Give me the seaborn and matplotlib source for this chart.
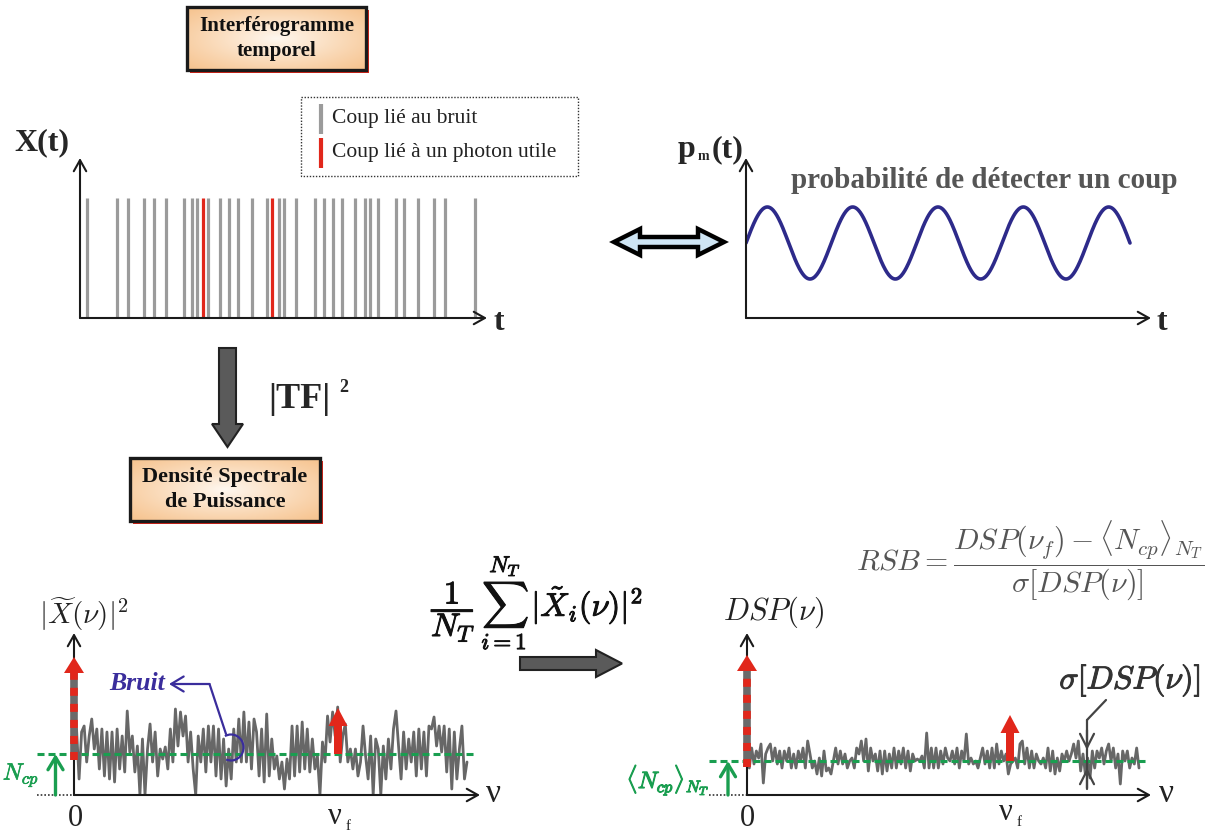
import numpy as np
import matplotlib
matplotlib.use("Agg")
import matplotlib.pyplot as plt
import matplotlib.patheffects as pe
import seaborn as sns
from matplotlib.patches import Rectangle, Polygon, Arc

# ---------------- data ----------------
# photon counting interferogram: positions of the counts along t (px from origin)
noise_count_times = [7, 37, 48, 64, 74, 86, 104, 112, 117, 128, 140, 149, 158, 172,
                     187, 199, 204, 216, 235, 244, 253, 262, 275, 285, 290, 298,
                     316, 324, 338, 354, 365, 395]
photon_count_times = [122.5, 192]
count_height = 120

# detection probability p_m(t)
sine_cycles = 4.5
sine_span = 384
sine_mean = 75
sine_amp = 36

# single-realisation spectrum |X(nu)|^2 (height above axis)
spectrum_single = [56, 66, 16, 63, 69, 33, 59, 76, 46, 66, 26, 66, 19, 63, 16, 63, 13, 66,
                   26, 59, 23, 84, 43, 59, 23, 49, 0, 56, 0, 46, 71, 33, 63, 19, 46, 36,
                   48, 26, 66, 33, 86, 49, 83, 59, 79, 33, 63, 26, 0, 59, 33, 66, 23, 69,
                   33, 69, 19, 66, 16, 56, 9, 46, 16, 66, 33, 76, 33, 83, 33, 73, 26, 76,
                   63, 19, 66, 13, 81, 19, 56, 26, 39, 16, 33, 6, 36, 16, 69, 19, 69, 23,
                   73, 26, 66, 23, 56, 26, 39, 0, 53, 33, 79, 53, 83, 59, 88, 33, 59, 71,
                   33, 46, 26, 46, 19, 33, 69, 39, 16, 59, 0, 56, 46, 0, 49, 16, 56, 26,
                   66, 84, 49, 16, 63, 26, 56, 33, 63, 19, 66, 26, 63, 19, 69, 66, 78, 49,
                   69, 43, 69, 23, 66, 6, 63, 16, 46, 69, 16, 33]
spectrum_single_span = 393
single_noise_mean = 41
single_dc_peak = 138
single_vf = 264
single_vf_peak = 87

# averaged spectrum DSP(nu)
spectrum_avg = [41, 27, 47, 31, 44, 37, 51, 12, 41, 47, 51, 34, 47, 31, 44, 27, 44, 34,
                47, 27, 41, 27, 44, 34, 47, 27, 54, 41, 27, 34, 21, 37, 19, 44, 24, 27,
                21, 34, 47, 31, 44, 31, 41, 27, 34, 37, 27, 47, 41, 54, 34, 56, 24, 47,
                34, 41, 24, 44, 21, 44, 24, 41, 27, 47, 27, 44, 31, 47, 27, 44, 24, 41,
                34, 36, 34, 39, 27, 62, 27, 47, 27, 47, 27, 44, 31, 47, 37,
                34, 44, 31, 47, 27, 44, 34, 61, 31, 37, 31, 34, 27, 37, 47, 31, 44, 27,
                47, 27, 51, 31, 44, 34, 41, 21, 31, 34, 37, 27, 51, 54, 31, 47, 27, 44,
                27, 41, 34, 31, 37, 27, 47, 24, 44, 21, 37, 24, 41, 34, 44, 34, 41, 51,
                37, 54, 24, 41, 21, 37, 17, 44, 27, 44, 37, 47, 31, 44, 51, 34, 47, 27,
                41, 11, 44, 34, 44, 27, 37, 31, 47, 27]
spectrum_avg_span = 392
avg_noise_mean = 34
avg_dc_peak = 140
avg_vf = 263
avg_vf_peak = 80
avg_sigma_top = 45
avg_sigma_bottom = 27

legend_labels = ["Coup lié au bruit", "Coup lié à un photon utile"]
box_titles = ["Interférogramme\ntemporel", "Densité Spectrale\nde Puissance"]

# ---------------- style ----------------
sns.set_theme(style="white")
SERIF = ["Liberation Serif", "DejaVu Serif"]
plt.rcParams["font.family"] = SERIF
plt.rcParams["mathtext.fontset"] = "cm"

GREY_COUNT = "#9b9b9b"
RED = "#e1271b"
NOISE = "#676767"
GREEN = "#1a9e50"
BLUE = "#2d2a8a"
BRUIT_BLUE = "#3a2d9c"
DARK = "#222222"


def bold(color, w=1.0):
    return [pe.withStroke(linewidth=w, foreground=color)]


W, H = 1222, 836
fig = plt.figure(figsize=(W / 100, H / 100), dpi=100)
fig.patch.set_facecolor("white")

ov = fig.add_axes([0, 0, 1, 1])
ov.axis("off")


def panel(x0, y0, xr, yt):
    ax = fig.add_axes([x0 / W, 1 - y0 / H, (xr - x0) / W, (y0 - yt) / H])
    ax.axis("off")
    ap = dict(arrowstyle="->,head_length=0.5,head_width=0.28", lw=1.5, color="k",
              shrinkA=0, shrinkB=0, mutation_scale=16)
    ax.annotate("", xy=(xr - x0, 0), xytext=(0, 0), arrowprops=ap, annotation_clip=False)
    ax.annotate("", xy=(0, y0 - yt), xytext=(0, 0), arrowprops=ap, annotation_clip=False)
    return ax, (xr - x0, y0 - yt)


def title_box(x0, y0, x1, y1, text, fs):
    ov.add_patch(Rectangle((x0 + 3, y0 + 3), x1 - x0, y1 - y0, facecolor="#e02418",
                           edgecolor="none", zorder=1))
    gx, gy = np.meshgrid(np.linspace(-1, 1, 200), np.linspace(-1, 1, 70))
    r = np.clip(np.sqrt(gx ** 2 + gy ** 2) / np.sqrt(2), 0, 1) ** 0.9
    c0 = np.array([1.0, 0.975, 0.945])
    c1 = np.array([0.965, 0.76, 0.55])
    img = c0[None, None, :] * (1 - r[..., None]) + c1[None, None, :] * r[..., None]
    ov.imshow(img, extent=(x0, x1, y1, y0), aspect="auto", zorder=2,
              interpolation="bilinear")
    ov.add_patch(Rectangle((x0, y0), x1 - x0, y1 - y0, fill=False, edgecolor="#1a1a1a",
                           lw=2.4, zorder=3))
    ov.text((x0 + x1) / 2, (y0 + y1) / 2, text, ha="center", va="center",
            fontsize=fs, fontweight="bold", linespacing=1.35, color="#111", zorder=4)


# ---------------- overlay decorations ----------------
title_box(187, 7, 366, 70, box_titles[0], 15)
title_box(130, 458, 320, 521, box_titles[1], 16)

# legend
ov.add_patch(Rectangle((301, 97), 277, 79, fill=False, ls=(0, (1, 1.2)), lw=1.0,
                       edgecolor="#333"))
ov.plot([321, 321], [104, 134], color=GREY_COUNT, lw=3, solid_capstyle="butt")
ov.plot([321, 321], [138, 168], color=RED, lw=3, solid_capstyle="butt")
ov.text(332, 118, legend_labels[0], fontsize=15.5, va="center", ha="left", color="#222")
ov.text(332, 152, legend_labels[1], fontsize=15.5, va="center", ha="left", color="#222")

ov.text(42, 143, "X(t)", fontsize=23, fontweight="bold", ha="center", va="center")
ov.text(499, 322, "t", fontsize=23, fontweight="bold", ha="center", va="center")
ov.text(1162, 322, "t", fontsize=23, fontweight="bold", ha="center", va="center")
ov.text(686, 157, "p", fontsize=23, fontweight="bold", ha="center", va="baseline")
ov.text(703, 160, "m", fontsize=10, fontweight="bold", ha="center", va="baseline")
ov.text(728, 157, "(t)", fontsize=23, fontweight="bold", ha="center", va="baseline")
ov.text(984, 180, "probabilité de détecter un coup", fontsize=21, fontweight="bold",
        color="#555555", ha="center", va="center")

# double arrow
ov.add_patch(Polygon([(614, 242), (640, 229), (640, 237), (698, 237), (698, 229),
                      (724, 242), (698, 255), (698, 247), (640, 247), (640, 255)],
                     closed=True, facecolor="#cfe5f4", edgecolor="black", lw=3.2,
                     joinstyle="miter"))

# down arrow |TF|^2
ov.add_patch(Polygon([(219, 348), (236, 348), (236, 424), (243, 424), (227.5, 447),
                      (212, 424), (219, 424)], closed=True, facecolor="#5a5a5a",
                     edgecolor="#222", lw=1.5))
ov.text(299, 399, "|TF|", fontsize=26, fontweight="bold", ha="center", va="center")
ov.text(344, 387, "2", fontsize=13, fontweight="bold", ha="center", va="center")

# averaging arrow + formula
ov.add_patch(Polygon([(520, 657), (596, 657), (596, 650), (622, 663.5), (596, 677),
                      (596, 670), (520, 670)], closed=True, facecolor="#5a5a5a",
                     edgecolor="#222", lw=1.5))
ov.text(537, 603, r"$\dfrac{1}{N_T}\,\sum_{i=1}^{N_T}\,|\tilde{X}_i(\nu)|^2$",
        fontsize=23.5, ha="center", va="center", color="#111",
        path_effects=bold("#111", 0.7))

ov.text(1030, 560,
        r"$RSB=\dfrac{DSP(\nu_f)-\langle N_{cp}\rangle_{N_T}}{\sigma[DSP(\nu)]}$",
        fontsize=21.5, color="#555555", ha="center", va="center")

# labels bottom-left
ov.text(84, 614, r"$|\widetilde{X}(\nu)|^2$", fontsize=21, color="#222", ha="center",
        va="center")
ov.text(21, 775, r"$N_{cp}$", fontsize=17, color=GREEN, ha="center", va="center",
        path_effects=bold(GREEN, 0.5))
ov.text(75, 818, "0", fontsize=22, ha="center", va="center", color="#222")
ov.text(335, 817, "ν", fontsize=22, ha="center", va="center", color="#222")
ov.text(348, 826, "f", fontsize=11, ha="center", va="center", color="#222")
ov.text(493, 794, "ν", fontsize=24, ha="center", va="center", color="#222")

# labels bottom-right
ov.text(774, 612, r"$DSP(\nu)$", fontsize=22, color="#222", ha="center", va="center")
ov.text(668, 780, r"$\langle N_{cp}\rangle_{N_T}$", fontsize=17, color=GREEN,
        ha="center", va="center", path_effects=bold(GREEN, 0.8))
ov.text(747, 818, "0", fontsize=22, ha="center", va="center", color="#222")
ov.text(1006, 812, "ν", fontsize=22, ha="center", va="center", color="#222")
ov.text(1019, 822, "f", fontsize=11, ha="center", va="center", color="#222")
ov.text(1166, 794, "ν", fontsize=24, ha="center", va="center", color="#222")
ov.text(1130, 681, r"$\sigma[DSP(\nu)]$", fontsize=23, color="#333", ha="center",
        va="center", path_effects=bold("#333", 0.7))

ov.set_xlim(0, W)
ov.set_ylim(H, 0)

# ---------------- panel 1 : counts ----------------
ax1, (w1, h1) = panel(80, 318, 487, 158)
ax1.vlines(noise_count_times, 0, count_height, color=GREY_COUNT, lw=2.3)
ax1.vlines(photon_count_times, 0, count_height, color=RED, lw=2.3)
ax1.set_xlim(0, w1)
ax1.set_ylim(0, h1)

# ---------------- panel 2 : probability ----------------
ax2, (w2, h2) = panel(746, 318, 1151, 158)
t = np.linspace(0, sine_span, 700)
p = sine_mean + sine_amp * np.sin(2 * np.pi * sine_cycles * t / sine_span)
sns.lineplot(x=t, y=p, ax=ax2, color=BLUE, lw=2.6, sort=False)
ax2.set_xlim(0, w2)
ax2.set_ylim(0, h2)


def spectrum_panel(ax, w, h, values, span, mean_level, dc_peak, vf, vf_peak,
                   left_ext):
    x = np.linspace(0, span, len(values))
    sns.lineplot(x=x, y=values, ax=ax, color=NOISE, lw=2.0, sort=False, zorder=2)
    ax.plot([-left_ext, span + 7], [mean_level, mean_level], color=GREEN, lw=2.2,
            ls=(0, (2.3, 1.3)), clip_on=False, zorder=3)
    ax.plot([-left_ext, 0], [0, 0], color="#333", lw=1.2, ls=(0, (1, 1.2)),
            clip_on=False)
    ax.annotate("", xy=(-left_ext / 2, mean_level), xytext=(-left_ext / 2, 0),
                arrowprops=dict(arrowstyle="->,head_length=0.5,head_width=0.3",
                                color=GREEN, lw=2.4, shrinkA=0, shrinkB=0,
                                mutation_scale=18), annotation_clip=False)
    # DC peak: red / grey dashed arrow
    ax.plot([0, 0], [mean_level - 6, dc_peak - 16], color="#6a6a6a", lw=5.5,
            solid_capstyle="butt", zorder=4, clip_on=False)
    ax.plot([0, 0], [mean_level - 6, dc_peak - 16], color=RED, lw=5.5,
            ls=(0, (1.05, 1.05)), solid_capstyle="butt", dash_capstyle="butt",
            zorder=5, clip_on=False)
    ax.add_patch(Polygon([(-10, dc_peak - 16), (10, dc_peak - 16), (0, dc_peak)],
                         closed=True, facecolor=RED, edgecolor="none", zorder=5,
                         clip_on=False))
    # useful signal peak
    ax.arrow(vf, mean_level, 0, vf_peak - mean_level, width=8, head_width=19,
             head_length=18, length_includes_head=True, color=RED, lw=0, zorder=5)
    ax.set_xlim(0, w)
    ax.set_ylim(0, h)


ax3, (w3, h3) = panel(74, 795, 480, 633)
spectrum_panel(ax3, w3, h3, spectrum_single, spectrum_single_span, single_noise_mean,
               single_dc_peak, single_vf, single_vf_peak, 37)
# "Bruit" annotation
ax3.text(63, 111, "Bruit", fontsize=18.5, style="italic", fontweight="bold",
         color=BRUIT_BLUE, ha="center", va="center", zorder=6)
ax3.plot([135.5, 152], [111, 61], color=BRUIT_BLUE, lw=1.6, zorder=6)
ax3.annotate("", xy=(95, 111), xytext=(135.5, 111),
             arrowprops=dict(arrowstyle="->,head_length=0.5,head_width=0.3",
                             color=BRUIT_BLUE, lw=1.6, shrinkA=0, shrinkB=0,
                             mutation_scale=18), zorder=6)
ax3.add_patch(Arc((157, 47.5), 25, 26, theta1=-112, theta2=118, color=BRUIT_BLUE,
                  lw=1.6, zorder=6))

ax4, (w4, h4) = panel(747, 795, 1151, 633)
spectrum_panel(ax4, w4, h4, spectrum_avg, spectrum_avg_span, avg_noise_mean,
               avg_dc_peak, avg_vf, avg_vf_peak, 38)
sx = 340
ax4.plot([sx, sx], [6, 75], color="#444", lw=1.6, zorder=6)
ax4.plot([sx, sx + 19], [75, 95], color="#444", lw=1.6, zorder=6)
ahp = dict(arrowstyle="->,head_length=0.55,head_width=0.28", color="#444", lw=1.6,
           shrinkA=0, shrinkB=0, mutation_scale=18)
ax4.annotate("", xy=(sx, avg_sigma_top), xytext=(sx, avg_sigma_top + 20),
             arrowprops=ahp, zorder=6)
ax4.annotate("", xy=(sx, avg_sigma_bottom), xytext=(sx, avg_sigma_bottom - 20),
             arrowprops=ahp, zorder=6)
ax4.set_xlim(0, w4)
ax4.set_ylim(0, h4)

fig.savefig("out.png", dpi=100)
